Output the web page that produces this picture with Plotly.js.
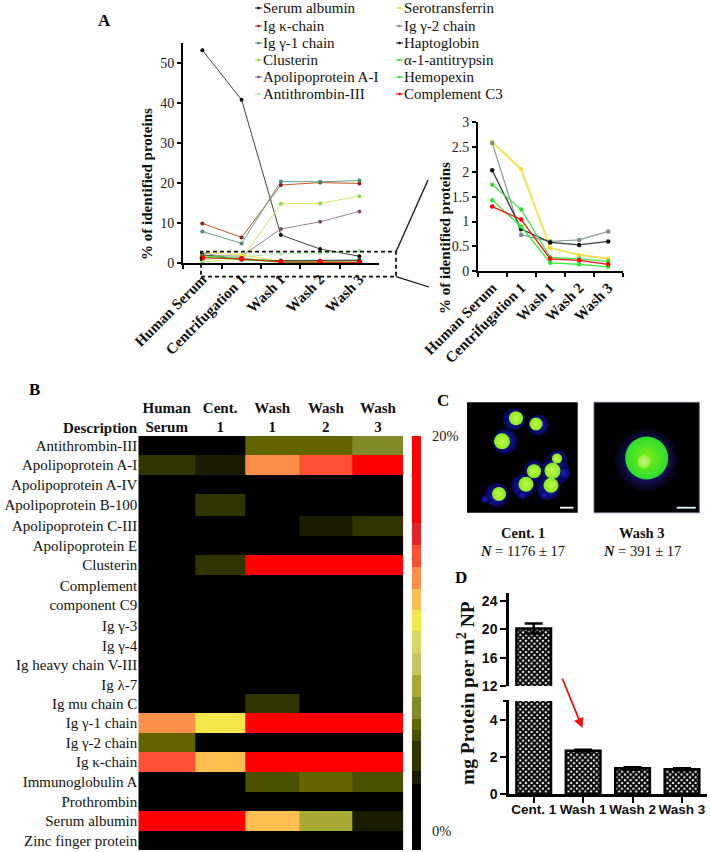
<!DOCTYPE html>
<html>
<head>
<meta charset="utf-8">
<script src="https://cdn.plot.ly/plotly-3.0.1.min.js"></script>
<style>html,body{margin:0;padding:0;background:#fff}#chart{width:710px;height:852px}</style>
</head>
<body>
<div id="chart"></div>
<script>
// ---------- Panel A data ----------
const stages = ['Human Serum', 'Centrifugation 1', 'Wash 1', 'Wash 2', 'Wash 3'];
const proteinNames = ['Serum albumin','Ig κ-chain','Ig γ-1 chain','Clusterin','Apolipoprotein A-I','Antithrombin-III',
                      'Serotransferrin','Ig γ-2 chain','Haptoglobin','α-1-antitrypsin','Hemopexin','Complement C3'];
const serumAlbumin   = [53.2, 40.8, 7.0, 3.5, 1.7];
const igKappa        = [9.9, 6.4, 19.5, 20.1, 19.9];
const igGamma1       = [7.9, 4.9, 20.4, 20.3, 20.6];
const clusterin      = [0.3, 1.0, 14.8, 14.9, 16.7];
const apoA1          = [1.9, 1.7, 8.5, 10.3, 12.9];
const antithrombin   = [0.8, 1.5, 2.3, 2.5, 3.0];
const serotransferrin= [2.6, 2.05, 0.47, 0.33, 0.25];
const igGamma2       = [2.58, 0.73, 0.6, 0.63, 0.8];
const haptoglobin    = [2.03, 0.85, 0.58, 0.53, 0.6];
const antitrypsin    = [1.74, 1.24, 0.28, 0.25, 0.2];
const hemopexin      = [1.43, 0.9, 0.17, 0.14, 0.09];
const complementC3   = [1.3, 1.04, 0.25, 0.22, 0.14];
const allSeries = [serumAlbumin, igKappa, igGamma1, clusterin, apoA1, antithrombin,
                   serotransferrin, igGamma2, haptoglobin, antitrypsin, hemopexin, complementC3];
const lineColors   = ['#3c4a28','#c4561e','#62a48e','#cdea62','#93839a','#b4efb4',
                      '#f6e352','#8f9e9e','#3a3a3a','#3fe63f','#2cf52c','#ee1111'];
const markerColors = ['#0a0a0a','#8b1c1c','#3f8f70','#93d644','#7a4f6c','#9fe89f',
                      '#f4de3a','#7d8c8c','#111111','#35d835','#2ee82e','#ff0000'];
const insetFirst = 6;

// ---------- Panel B data ----------
const rowNames = ['Antithrombin-III','Apolipoprotein A-I','Apolipoprotein A-IV','Apolipoprotein B-100','Apolipoprotein C-III',
  'Apolipoprotein E','Clusterin','Complement<br>component C9','Ig γ-3','Ig γ-4','Ig heavy chain V-III','Ig λ-7','Ig mu chain C',
  'Ig γ-1 chain','Ig γ-2 chain','Ig κ-chain','Immunoglobulin A','Prothrombin','Serum albumin','Zinc finger protein'];
const columnNames = ['Human<br>Serum','Cent.<br>1','Wash<br>1','Wash<br>2','Wash<br>3'];
const columnWidths = [56.7, 50.3, 53.7, 53.7, 50.6];
const rowHeights = [19,20,19,22,19.7,19.3,19.7,41.3,20,19,20,19,19.3,19.7,19.3,19.7,19.7,19.3,20,19];
const antithrombinRow = [0, 0, 6, 6, 6.9];
const apoA1Row   = [4.5, 3.5, 13.4, 14, 20];
const apoA4Row   = [0, 0, 0, 0, 0];
const apoB100Row = [0, 4.5, 0, 0, 0];
const apoC3Row   = [0, 0, 0, 3.5, 4.5];
const apoERow    = [0, 0, 0, 0, 0];
const clusterinRow = [0, 4.8, 20, 20, 20];
const c9Row      = [0, 0, 0, 0, 0];
const igG3Row    = [0, 0, 0, 0, 0];
const igG4Row    = [0, 0, 0, 0, 0];
const vh3Row     = [0, 0, 0, 0, 0];
const lambda7Row = [0, 0, 0, 0, 0];
const muRow      = [0, 0, 4.5, 0, 0];
const igG1Row    = [13, 11, 20, 20, 20];
const igG2Row    = [6, 0, 0, 0, 0];
const kappaRow   = [14, 12, 20, 20, 20];
const igARow     = [0, 0, 5.5, 6, 5.5];
const prothrombinRow = [0, 0, 0, 0, 0];
const albuminRow = [20, 20, 12.2, 7.9, 3.4];
const zincRow    = [0, 0, 0, 0, 0];
const heatValues = [antithrombinRow, apoA1Row, apoA4Row, apoB100Row, apoC3Row, apoERow, clusterinRow, c9Row, igG3Row, igG4Row,
                    vh3Row, lambda7Row, muRow, igG1Row, igG2Row, kappaRow, igARow, prothrombinRow, albuminRow, zincRow];
const colorStops = [0, .159, .19, .263, .29, .316, .37, .423, .476, .529, .58, .63, .683, .737, .79, 1];
const colorBands = ['#000000','#1a1c00','#303500','#4a5000','#636500','#808a28','#a6aa34','#c4c860',
                    '#d8d860','#f2e648','#ffbe52','#fb8f4a','#ff5033','#e62226','#ff0000'];

// ---------- Panel C data ----------
const cent1CellX = [49, 69, 35, 90, 67, 85.5, 59, 84, 32];
const cent1CellY = [16, 21.7, 39, 56.3, 69, 68.5, 82, 83, 91.7];
const cent1CellD = [14, 13, 16, 10, 14, 16, 15, 15, 14];
const cent1HaloX = [47, 71.3, 38, 90.3, 67, 88, 96.3, 56.3, 55.3, 81.3, 77, 29.7, 18];
const cent1HaloY = [17, 22.7, 39.3, 57.7, 69.3, 69.3, 71, 83.7, 92.7, 86, 92.7, 92.7, 97];
const cent1HaloD = [22, 21, 25, 20, 22, 29, 14, 24, 8, 24, 9, 24, 8];
const wash3CellX = [52.7];
const wash3CellY = [55.7];
const wash3CellD = [43];
const wash3HaloX = [52.7];
const wash3HaloY = [57.7];
const wash3HaloD = [66];
const wash3CoreX = [50];
const wash3CoreY = [59.3];
const wash3CoreD = [13];

// ---------- Panel D data ----------
const bindingGroups = ['Cent. 1', 'Wash 1', 'Wash 2', 'Wash 3'];
const bindingMeans  = [20.1, 2.33, 1.38, 1.33];
const bindingErrors = [0.7, 0.05, 0.06, 0.05];

// ---------- helpers ----------
const W = 710, H = 852;
const SERIF = 'Liberation Serif', SANS = 'Liberation Sans';
const px = x => x / W, py = y => 1 - y / H;
const dx = (a, b) => [a / W, b / W];
const dy = (top, bottom) => [1 - bottom / H, 1 - top / H];
const cum = a => a.reduce((o, v) => (o.push(o[o.length - 1] + v), o), [0]);
const columnEdges = cum(columnWidths), rowEdges = cum(rowHeights);
const mids = e => e.slice(1).map((v, i) => (v + e[i]) / 2);

const traces = [];
allSeries.forEach((vals, i) => traces.push({
  type: 'scatter', mode: 'lines+markers', x: stages, y: vals, name: proteinNames[i], xaxis: 'x', yaxis: 'y',
  line: {color: lineColors[i], width: 1}, marker: {color: markerColors[i], size: i === 11 ? 5.5 : 4}, showlegend: false, cliponaxis: false
}));
allSeries.slice(insetFirst).forEach((vals, i) => traces.push({
  type: 'scatter', mode: 'lines+markers', x: stages, y: vals, name: proteinNames[i + insetFirst], xaxis: 'x2', yaxis: 'y2',
  line: {color: lineColors[i + insetFirst], width: i === 0 ? 2 : 1.3},
  marker: {color: markerColors[i + insetFirst], size: 4.5}, showlegend: false, cliponaxis: false
}));

const scale = [];
colorBands.forEach((c, i) => { scale.push([colorStops[i], c]); scale.push([colorStops[i + 1], c]); });
traces.push({
  type: 'heatmap', x: columnEdges, y: rowEdges, z: heatValues, xaxis: 'x3', yaxis: 'y3',
  zmin: 0, zmax: 20, colorscale: scale, hoverongaps: false,
  colorbar: {x: px(411.7), xanchor: 'left', y: py(850), yanchor: 'bottom', len: 414, lenmode: 'pixels',
             thickness: 9.4, thicknessmode: 'pixels', xpad: 0, ypad: 0, outlinewidth: 0, borderwidth: 0,
             showticklabels: false, ticks: '', tickvals: []}
});

const blob = (xs, ys, ds, ax, ay, outer, center) => ({type:'scatter', mode:'markers', x:xs, y:ys, xaxis:ax, yaxis:ay,
  showlegend:false, marker:{size:ds, opacity:1, color:outer, gradient:{type:'radial', color:center}, line:{width:0}}});
traces.push(blob(cent1HaloX, cent1HaloY, cent1HaloD, 'x4', 'y4', '#05054a', '#1c1cd8'));
traces.push(blob(cent1CellX, cent1CellY, cent1CellD, 'x4', 'y4', '#86ec1c', '#c4f848'));
traces.push(blob(wash3HaloX, wash3HaloY, wash3HaloD, 'x5', 'y5', '#000000', '#2a2ae8'));
traces.push(blob(wash3CellX, wash3CellY, wash3CellD, 'x5', 'y5', '#2cdc30', '#80f012'));
traces.push(blob(wash3CoreX, wash3CoreY, wash3CoreD, 'x5', 'y5', '#90f030', '#d0f09a'));

const barPattern = {shape:'x', bgcolor:'#ffffff', fgcolor:'#000000', size:4, solidity:0.72};
['', '7'].forEach((_, k) => traces.push({
  type:'bar', x:bindingGroups, y:bindingMeans, xaxis:k?'x7':'x6', yaxis:k?'y7':'y6', showlegend:false,
  error_y:{type:'data', array:bindingErrors, visible:true, color:'#000', thickness:2.5, width:9},
  marker:{pattern:barPattern, color:'#fff', line:{color:'#000', width:2.5}}
}));

// ---------- axes ----------
const lineAxis = (d, anchor) => ({
  domain:d, anchor:anchor, showgrid:false, zeroline:false, showline:true, linecolor:'#000', linewidth:1.5,
  ticks:'outside', ticklen:4, tickcolor:'#000', tickwidth:1.5, automargin:false
});
const layout = {
  width:W, height:H, margin:{l:0,r:0,t:0,b:0,pad:0}, paper_bgcolor:'#fff', plot_bgcolor:'rgba(0,0,0,0)',
  font:{family:SERIF, color:'#111', size:14}, showlegend:false, bargap:0.3,
  xaxis: Object.assign(lineAxis(dx(182.7,379),'y'), {type:'category', categoryorder:'array', categoryarray:stages, range:[-0.5,4.5],
     tickson:'boundaries', tickangle:-45, tickfont:{family:SERIF,size:15,weight:'bold',color:'#111'}}),
  yaxis: Object.assign(lineAxis(dy(43,263),'x'), {range:[0,55], tickvals:[0,10,20,30,40,50], tickfont:{family:SERIF,size:14,color:'#222'}}),
  xaxis2: Object.assign(lineAxis(dx(477.7,622.7),'y2'), {type:'category', categoryorder:'array', categoryarray:stages, range:[-0.5,4.5],
     tickson:'boundaries', tickangle:-45, tickfont:{family:SERIF,size:15,weight:'bold',color:'#111'}}),
  yaxis2: Object.assign(lineAxis(dy(122,271.3),'x2'), {range:[0,3], tickvals:[0,0.5,1,1.5,2,2.5,3], ticktext:['0','0.5','1','1.5','2','2.5','3'],
     tickfont:{family:SERIF,size:14,color:'#222'}}),
  xaxis3: {domain:dx(138.3,403.3), anchor:'y3', side:'top', range:[0,columnEdges[5]], showgrid:false, zeroline:false,
     tickmode:'array', tickvals:mids(columnEdges), ticktext:columnNames, ticks:'', tickangle:0,
     tickfont:{family:SERIF,size:15,weight:'bold',color:'#111'}},
  yaxis3: {domain:dy(436,850), anchor:'x3', range:[rowEdges[20],0], showgrid:false, zeroline:false,
     tickmode:'array', tickvals:mids(rowEdges), ticktext:rowNames, ticks:'', ticklabelstandoff:0,
     tickfont:{family:SERIF,size:15,color:'#111'}},
  xaxis4: {domain:dx(467,577.7), anchor:'y4', range:[0,110.7], visible:false},
  yaxis4: {domain:dy(402.3,512.7), anchor:'x4', range:[110.4,0], visible:false},
  xaxis5: {domain:dx(594,699.3), anchor:'y5', range:[0,105.3], visible:false},
  yaxis5: {domain:dy(402.3,512.7), anchor:'x5', range:[110.4,0], visible:false},
  xaxis6: {domain:dx(509,706.7), anchor:'y6', type:'category', showgrid:false, zeroline:false, showline:true, linecolor:'#000', linewidth:2.5,
     ticks:'outside', ticklen:6, tickwidth:2, tickcolor:'#000', tickangle:0, ticklabelstandoff:-5, tickfont:{family:SANS,size:13.5,weight:'bold',color:'#111'}},
  yaxis6: {domain:dy(701,794), anchor:'x6', range:[0,5], showgrid:false, zeroline:false, showline:true, linecolor:'#000', linewidth:2.5,
     tickmode:'array', tickvals:[0,2,4], ticks:'outside', ticklen:6, tickwidth:2, tickcolor:'#000',
     tickfont:{family:SANS,size:14,weight:'bold',color:'#111'}},
  xaxis7: {domain:dx(509,706.7), anchor:'y7', type:'category', visible:false, matches:'x6'},
  yaxis7: {domain:dy(592.7,686), anchor:'x7', range:[12,25.15], showgrid:false, zeroline:false, showline:true, linecolor:'#000', linewidth:2.5,
     tickmode:'array', tickvals:[12,16,20,24], ticks:'outside', ticklen:6, tickwidth:2, tickcolor:'#000',
     tickfont:{family:SANS,size:14,weight:'bold',color:'#111'}},
  shapes: [], annotations: []
};

const paperLine = (x0,y0,x1,y1,color,width,dash) => layout.shapes.push({type:'line', xref:'paper', yref:'paper',
  x0:px(x0), y0:py(y0), x1:px(x1), y1:py(y1), line:{color:color, width:width, dash:dash||'solid'}});
const note = (text,x,y,opts) => layout.annotations.push(Object.assign({text:text, xref:'paper', yref:'paper', x:px(x), y:py(y),
  showarrow:false, xanchor:'center', yanchor:'middle', font:{family:SERIF,size:15,color:'#111'}}, opts||{}));

// zoom box and connector lines
layout.shapes.push({type:'rect', xref:'paper', yref:'paper', x0:px(201), x1:px(396), y0:py(276.7), y1:py(251.7),
  line:{color:'#111', width:1.8, dash:'4px,3px'}});
paperLine(396,251.7,428,180,'#111',1.3);
paperLine(396,276.7,429,287,'#111',1.3);

// tick closing the lower part of the broken axis in panel D
paperLine(503,701,509,701,'#000',2);

// panel C image backgrounds and scale bars
layout.shapes.push({type:'rect', xref:'x4 domain', yref:'y4 domain', x0:0, x1:1, y0:0, y1:1, layer:'below', fillcolor:'#000', line:{width:0}});
layout.shapes.push({type:'rect', xref:'x5 domain', yref:'y5 domain', x0:0, x1:1, y0:0, y1:1, layer:'below', fillcolor:'#000', line:{color:'#667', width:1}});
paperLine(560,507.7,573.3,507.7,'#fff',1.8);
paperLine(676.7,507.7,695.7,507.7,'#dfffff',1.8);

// colorbar labels
note('20%',429.5,436,{xanchor:'left',font:{family:SERIF,size:14.5,color:'#222'}});
note('0%',429.5,831,{xanchor:'left',font:{family:SERIF,size:14.5,color:'#222'}});

// legend of panel A
proteinNames.forEach((name,i) => {
  const col = i < 6 ? 263 : 404, row = [8,26,43,60,77,94][i % 6];
  paperLine(col-8,row,col-1,row,lineColors[i],1.2);
  layout.shapes.push({type:'circle', xref:'paper', yref:'paper', x0:px(col-5.8), x1:px(col-3.2), y0:py(row+1.3), y1:py(row-1.3),
    fillcolor:markerColors[i], line:{width:0}});
  note(name,col-2,row,{xanchor:'left'});
});

// panel labels and titles
note('A',104,20,{font:{family:SERIF,size:17,weight:'bold',color:'#000'}});
note('B',34,389,{font:{family:SERIF,size:17,weight:'bold',color:'#000'}});
note('C',443,400,{font:{family:SERIF,size:17,weight:'bold',color:'#000'}});
note('D',461,577,{font:{family:SERIF,size:17,weight:'bold',color:'#000'}});
note('% of identified proteins',147,184,{textangle:-90,font:{family:SERIF,size:15,weight:'bold',color:'#111'}});
note('% of identified proteins',445,238,{textangle:-90,font:{family:SERIF,size:15,weight:'bold',color:'#111'}});
note('Description',139.7,428,{xanchor:'right',font:{family:SERIF,size:15,weight:'bold',color:'#111'}});
note('Cent. 1',522.7,532.7,{font:{family:SERIF,size:14.5,weight:'bold',color:'#111'}});
note('<b><i>N</i></b> = 1176 ± 17',522.7,550.7,{font:{family:SERIF,size:14.5,color:'#111'}});
note('Wash 3',641.7,532.7,{font:{family:SERIF,size:14.5,weight:'bold',color:'#111'}});
note('<b><i>N</i></b> = 391 ± 17',641.7,550.7,{font:{family:SERIF,size:14.5,color:'#111'}});
note('mg Protein per m<sup>2</sup> NP',466,693,{textangle:-90,font:{family:SERIF,size:19.5,weight:'bold',color:'#111'}});

// red arrow of panel D
layout.annotations.push({xref:'paper', yref:'paper', x:px(582.5), y:py(728), axref:'pixel', ayref:'pixel',
  ax:561.7-582.5, ay:677-728, text:'', showarrow:true, arrowhead:2, arrowsize:1.1, arrowwidth:1.8, arrowcolor:'#f01010'});

Plotly.newPlot('chart', traces, layout, {displayModeBar:false});
</script>
</body>
</html>
